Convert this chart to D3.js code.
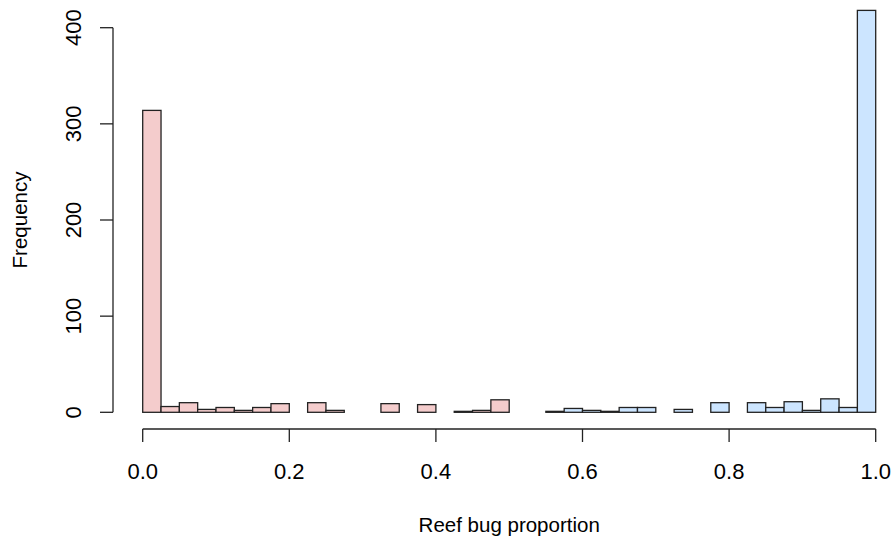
<!DOCTYPE html>
<html>
<head>
<meta charset="utf-8">
<script src="https://cdn.jsdelivr.net/npm/d3@7"></script>
<style>
  body { margin: 0; background: #fff; }
  text { font-family: "Liberation Sans", Arial, sans-serif; fill: #000; }
</style>
</head>
<body>
<svg id="chart" width="893" height="541"></svg>
<script>
// histogram of reef bug proportion, 40 bins of width 0.025
var binStarts = d3.range(0, 1, 0.025);
var counts = [314, 6, 10, 3, 5, 2, 5, 9, 0, 10,
              2, 0, 0, 9, 0, 8, 0, 1, 2, 13,
              0, 0, 1, 4, 2, 1, 5, 5, 0, 3,
              0, 10, 0, 10, 5, 11, 2, 14, 5, 418];
var xTicks = [0, 0.2, 0.4, 0.6, 0.8, 1.0];
var yTicks = [0, 100, 200, 300, 400];
var binWidth = 0.025;

var svg = d3.select('#chart');

var x = d3.scaleLinear().domain([0, 1]).range([142.7, 875.7]);
var y = d3.scaleLinear().domain([0, 400]).range([412.3, 27.7]);

var data = binStarts.map(function(s, i) { return {x0: s, n: counts[i]}; });

svg.selectAll('rect.bar')
  .data(data)
  .enter().append('rect')
    .attr('class', 'bar')
    .attr('x', function(d) { return x(d.x0); })
    .attr('width', function(d) { return x(d.x0 + binWidth) - x(d.x0); })
    .attr('y', function(d) { return y(d.n); })
    .attr('height', function(d) { return y(0) - y(d.n); })
    .style('fill', function(d) { return d.x0 < 0.5 ? '#f4cccc' : '#cce5ff'; })
    .style('stroke', '#222')
    .style('stroke-width', 1.3);

// x axis
var xAxis = svg.append('g').attr('transform', 'translate(0,429)');
xAxis.append('line')
  .attr('x1', x(0)).attr('x2', x(1))
  .style('stroke', '#222').style('stroke-width', 1.3);
xAxis.selectAll('line.tick')
  .data(xTicks)
  .enter().append('line')
    .attr('class', 'tick')
    .attr('x1', function(d) { return x(d); })
    .attr('x2', function(d) { return x(d); })
    .attr('y1', 0).attr('y2', 13)
    .style('stroke', '#222').style('stroke-width', 1.3);
xAxis.selectAll('text')
  .data(xTicks)
  .enter().append('text')
    .attr('x', function(d) { return x(d); })
    .attr('y', 50)
    .attr('text-anchor', 'middle')
    .style('font-size', '22px')
    .text(function(d) { return d3.format('.1f')(d); });

// y axis
var yAxis = svg.append('g').attr('transform', 'translate(113,0)');
yAxis.append('line')
  .attr('y1', y(0)).attr('y2', y(400))
  .style('stroke', '#222').style('stroke-width', 1.3);
yAxis.selectAll('line.tick')
  .data(yTicks)
  .enter().append('line')
    .attr('class', 'tick')
    .attr('y1', function(d) { return y(d); })
    .attr('y2', function(d) { return y(d); })
    .attr('x1', 0).attr('x2', -13)
    .style('stroke', '#222').style('stroke-width', 1.3);
yAxis.selectAll('text')
  .data(yTicks)
  .enter().append('text')
    .attr('transform', function(d) { return 'translate(-32,' + y(d) + ') rotate(-90)'; })
    .attr('text-anchor', 'middle')
    .style('font-size', '22px')
    .text(function(d) { return d; });

// axis titles
svg.append('text')
  .attr('x', (x(0) + x(1)) / 2)
  .attr('y', 532)
  .attr('text-anchor', 'middle')
  .style('font-size', '20.5px')
  .text('Reef bug proportion');

svg.append('text')
  .attr('transform', 'translate(27,' + (y(0) + y(400)) / 2 + ') rotate(-90)')
  .attr('text-anchor', 'middle')
  .style('font-size', '20.5px')
  .text('Frequency');
</script>
</body>
</html>
